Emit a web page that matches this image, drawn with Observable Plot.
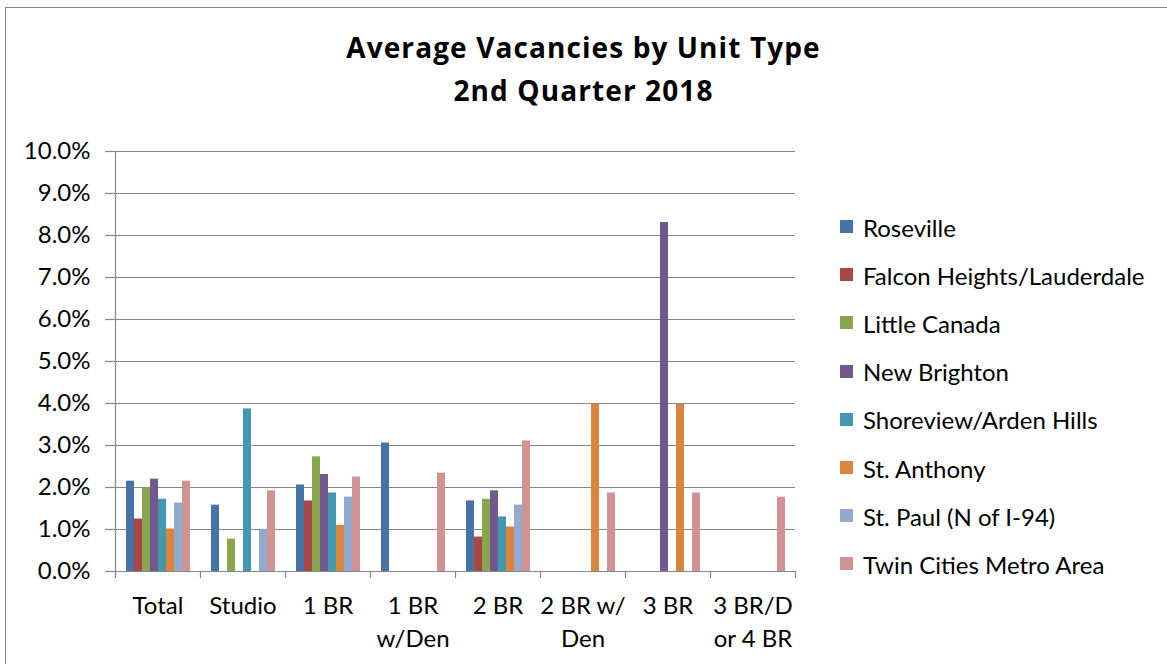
<!DOCTYPE html>
<html>
<head>
<meta charset="utf-8">
<script src="https://cdn.jsdelivr.net/npm/d3@7"></script>
<script src="https://cdn.jsdelivr.net/npm/@observablehq/plot@0.6"></script>
<style>
  html, body { margin: 0; padding: 0; background: #fff; }
  #page { position: relative; width: 1167px; height: 664px; overflow: hidden; font-family: Lato, sans-serif; color: #000; }
  #border { position: absolute; left: 5px; top: 7px; width: 1300px; height: 800px; border-left: 1px solid #868686; border-top: 1px solid #868686; pointer-events: none; }
  #title { position: relative; width: 1167px; height: 125px; }
  .tline { position: absolute; left: 0; width: 1167px; text-align: center; font-family: "Open Sans", sans-serif; font-weight: 700; font-size: 28px; letter-spacing: 1.1px; line-height: 1.2; white-space: nowrap; }
  #legend { position: absolute; left: 0; top: 0; }
  .lrow { position: absolute; left: 840px; white-space: nowrap; font-size: 24px; line-height: 1.2; }
  .lsw { position: absolute; left: 0; width: 13px; height: 13px; }
  .ltx { position: absolute; left: 23px; top: 0; }
  svg { display: block; }
</style>
</head>
<body>
<div id="page">
  <div id="title">
    <div class="tline" style="top:31px">Average Vacancies by Unit Type</div>
    <div class="tline" style="top:74px">2nd Quarter 2018</div>
  </div>
  <div id="chart"></div>
  <div id="legend"></div>
  <div id="border"></div>
</div>
<script>
// ---- data ----
const categories = ["Total", "Studio", "1 BR", "1 BR\nw/Den", "2 BR", "2 BR w/\nDen", "3 BR", "3 BR/D\nor 4 BR"];
const seriesNames = ["Roseville", "Falcon Heights/Lauderdale", "Little Canada", "New Brighton", "Shoreview/Arden Hills", "St. Anthony", "St. Paul (N of I-94)", "Twin Cities Metro Area"];
const colors = ["#4572A7", "#AA4643", "#89A54E", "#71588F", "#4198AF", "#DB843D", "#93A9CF", "#D19392"];
const roseville     = [2.15, 1.58, 2.06, 3.06, 1.68, null, null, null];
const falconHeights = [1.25, null, 1.68, null, 0.82, null, null, null];
const littleCanada  = [1.99, 0.77, 2.73, null, 1.72, null, null, null];
const newBrighton   = [2.20, null, 2.31, null, 1.92, null, 8.31, null];
const shoreview     = [1.72, 3.87, 1.87, null, 1.30, null, null, null];
const stAnthony     = [1.01, null, 1.10, null, 1.06, 3.98, 3.98, null];
const stPaul        = [1.63, 0.99, 1.77, null, 1.58, null, null, null];
const twinCities    = [2.15, 1.92, 2.25, 2.34, 3.11, 1.87, 1.87, 1.77];
const yTicks = [0, 1, 2, 3, 4, 5, 6, 7, 8, 9, 10];

const seriesValues = [roseville, falconHeights, littleCanada, newBrighton, shoreview, stAnthony, stPaul, twinCities];
const rows = [];
seriesValues.forEach((vals, s) => vals.forEach((v, c) => {
  if (v != null) rows.push({cat: categories[c], series: seriesNames[s], value: v});
}));

// ---- layout ----
const W = 1167, H = 539;
const mL = 113, mR = 370, mT = 26, mB = 93;
const plotH = H - mT - mB;
const gray = "#868686";

const chart = Plot.plot({
  width: W, height: H,
  marginLeft: mL, marginRight: mR, marginTop: mT, marginBottom: mB,
  style: {fontFamily: "Lato, sans-serif", fontSize: "24px", color: "#000", background: "transparent", overflow: "visible"},
  fx: {domain: categories, padding: 0, label: null, axis: null},
  x: {domain: seriesNames, paddingInner: 0, paddingOuter: 0.75, axis: null},
  y: {domain: [0, 10], label: null},
  color: {domain: seriesNames, range: colors},
  marks: [
    Plot.gridY({ticks: yTicks, stroke: gray, strokeOpacity: 1, strokeWidth: 1.2}),
    Plot.axisY({ticks: yTicks, tickSize: 10, tickPadding: 15, tickFormat: d => d.toFixed(1) + "%", stroke: gray, strokeOpacity: 1, strokeWidth: 1.2, fill: "#000", fontSize: 24, label: null}),
    Plot.barY(rows, {fx: "cat", x: "series", y: "value", fill: "series", insetLeft: 0, insetRight: 0}),
    Plot.ruleY([0], {stroke: gray, strokeWidth: 1.2}),
    Plot.frame({anchor: "left", facetAnchor: "left", stroke: gray, strokeWidth: 1.2, insetBottom: -6}),
    Plot.frame({anchor: "left", insetTop: plotH, insetBottom: -6, stroke: gray, strokeWidth: 1.2}),
    Plot.frame({anchor: "right", facetAnchor: "right", insetTop: plotH, insetBottom: -6, stroke: gray, strokeWidth: 1.2}),
    Plot.axisFx({anchor: "bottom", tickSize: 0, tickPadding: 19, fontSize: 24, lineHeight: 1.38, fill: "#000", label: null})
  ]
});
document.getElementById("chart").appendChild(chart);

// ---- legend ----
const legend = document.getElementById("legend");
seriesNames.forEach((name, i) => {
  const row = document.createElement("div");
  row.className = "lrow";
  const top = 213.6 + 48.2 * i;
  row.style.top = top + "px";
  const sw = document.createElement("div");
  sw.className = "lsw";
  sw.style.background = colors[i];
  sw.style.top = (220 - 213.6) + "px";
  const tx = document.createElement("div");
  tx.className = "ltx";
  tx.textContent = name;
  row.appendChild(sw); row.appendChild(tx);
  legend.appendChild(row);
});
</script>
</body>
</html>
